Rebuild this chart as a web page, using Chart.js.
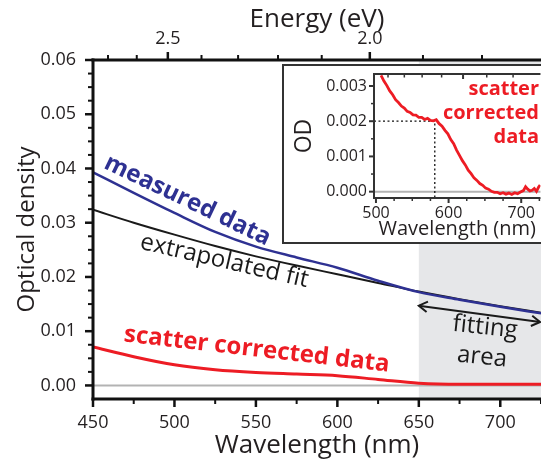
<!DOCTYPE html>
<html><head><meta charset="utf-8">
<script src="https://cdn.jsdelivr.net/npm/chart.js@4.4.1/dist/chart.umd.min.js"></script>
<style>
html,body{margin:0;padding:0;background:#fff;overflow:hidden;width:541px;height:462px;}
#wrap{position:relative;width:541px;height:462px;overflow:hidden;}
#main{position:absolute;left:0;top:0;width:541px;height:462px;}
#insetBox{position:absolute;left:282px;top:64px;width:300px;height:180px;box-sizing:border-box;border:2px solid #333;background:#fff;}
#inset{position:absolute;left:0;top:0;width:257px;height:176px;}
</style></head><body>
<div id="wrap">
<canvas id="main" width="541" height="462"></canvas>
<div id="insetBox"><canvas id="inset" width="257" height="176"></canvas></div>
</div>
<script>
// ---------- data ----------
const wavelength = [450, 475, 500, 525, 550, 575, 600, 625, 650, 675, 700, 725];
const measured   = [0.0393, 0.0355, 0.0318, 0.0283, 0.0256, 0.0236, 0.0217, 0.0193, 0.0172, 0.0158, 0.0145, 0.0133];
const extrapolatedFit = [0.0324, 0.0300, 0.0278, 0.0257, 0.0238, 0.0221, 0.0205, 0.0189, 0.0173, 0.0159, 0.0146, 0.0134];
const scatterCorrected = [0.0071, 0.0053, 0.0038, 0.0029, 0.0024, 0.0021, 0.0018, 0.0011, 0.0004, 0.0002, 0.0002, 0.0002];

const xMajorTicks = [450, 500, 550, 600, 650, 700];
const xMinorTicks = [475, 525, 575, 625, 675, 725];
const yMajorTicks = [0, 0.01, 0.02, 0.03, 0.04, 0.05, 0.06];
const yMinorTicks = [0.0025,0.005,0.0075,0.0125,0.015,0.0175,0.0225,0.025,0.0275,0.0325,0.035,0.0375,0.0425,0.045,0.0475,0.0525,0.055,0.0575];
const energyMajorTicks = [2.5, 2.0];
const energyMinorTicks = [2.7, 2.6, 2.4, 2.3, 2.2, 2.1, 1.9, 1.8];
const fitStart = 650, fitEnd = 725;

// inset data
const insetWavelength = [507,511,515,519,523,527,531,535,539,543,547,551,555,559,563,567,571,575,579,583,587,591,595,599,603,607,611,615,619,623,627,631,635,639,643,647,651,655,659,663,667,671,675,679,683,687,691,695,699,703,706,709,712,715,718,721,724,726];
const insetOD = [0.00330,0.00314,0.00301,0.00286,0.00275,0.00261,0.00253,0.00243,0.00237,0.00228,0.00225,0.00218,0.00217,0.00211,0.00211,0.00205,0.00208,0.00202,0.00201,0.00204,0.00193,0.00186,0.00174,0.00164,0.00148,0.00136,0.00118,0.00103,0.00088,0.00076,0.00061,0.00051,0.00039,0.00032,0.00023,0.00018,0.00010,0.00007,0.00001,-0.00002,-0.00002,-0.00006,-0.00003,-0.00007,-0.00004,-0.00008,-0.00003,-0.00006,-0.00001,0.00003,0.00014,0.00007,0.00002,0.00004,0.00009,0.00001,0.00013,0.00019];
const insetXMajor = [500, 600, 700];
const insetXMinor = [525, 550, 575, 625, 650, 675, 725];
const insetYMajor = [0, 0.001, 0.002, 0.003];
const insetYMinor = [0.0005, 0.0015, 0.0025];
const insetEnergyMajor = [2.0];
const insetEnergyMinor = [2.4, 2.3, 2.2, 2.1, 1.9, 1.8];
const markerWavelength = 581, markerOD = 0.002;

const HC = 1239.84;
const FONT = '"Open Sans", "DejaVu Sans", sans-serif';
const TXT = '#231f20';
const BLUE = '#2e3192', RED = '#ed1c24', BLACK = '#1a1a1a';

function pts(xs, ys){ return xs.map((x,i)=>({x:x, y:ys[i]})); }

function drawTickSet(ctx, scale, values, len, width, side, area){
  ctx.lineWidth = width;
  values.forEach(v=>{
    const p = scale.getPixelForValue(v);
    ctx.beginPath();
    if (side==='left'){ ctx.moveTo(area.left, p); ctx.lineTo(area.left-len, p); }
    if (side==='bottom'){ ctx.moveTo(p, area.bottom); ctx.lineTo(p, area.bottom+len); }
    if (side==='top'){ ctx.moveTo(p, area.top); ctx.lineTo(p, area.top-len); }
    if (side==='topIn'){ ctx.moveTo(p, area.top); ctx.lineTo(p, area.top+len); }
    ctx.stroke();
  });
}

function rotText(ctx, text, x, y, deg, font, color){
  ctx.save();
  ctx.translate(x, y);
  ctx.rotate(deg*Math.PI/180);
  ctx.font = font; ctx.fillStyle = color;
  ctx.textAlign='center'; ctx.textBaseline='middle';
  ctx.fillText(text, 0, 0);
  ctx.restore();
}

const mainDeco = {
  id: 'mainDeco',
  beforeDatasetsDraw(chart){
    const {ctx, chartArea:a, scales:{x, y}} = chart;
    ctx.save();
    ctx.fillStyle = '#e6e7e9';
    const x0 = x.getPixelForValue(fitStart);
    ctx.fillRect(x0, a.top, a.right - x0, a.bottom - a.top);
    ctx.strokeStyle = '#b3b3b3'; ctx.lineWidth = 2;
    const y0 = y.getPixelForValue(0);
    ctx.beginPath(); ctx.moveTo(a.left, y0); ctx.lineTo(a.right, y0); ctx.stroke();
    ctx.restore();
  },
  afterDraw(chart){
    const {ctx, chartArea:a, scales:{x, y}} = chart;
    ctx.save();
    ctx.strokeStyle = '#111'; ctx.lineCap = 'butt';
    ctx.lineWidth = 3;
    ctx.beginPath(); ctx.moveTo(a.left, a.top-1.5); ctx.lineTo(a.left, a.bottom+1.5); ctx.stroke();
    ctx.beginPath(); ctx.moveTo(a.left-1.5, a.top); ctx.lineTo(a.right, a.top); ctx.stroke();
    ctx.beginPath(); ctx.moveTo(a.left-1.5, a.bottom); ctx.lineTo(a.right, a.bottom); ctx.stroke();
    drawTickSet(ctx, y, yMajorTicks, 8, 2.5, 'left', a);
    drawTickSet(ctx, y, yMinorTicks, 5, 2, 'left', a);
    drawTickSet(ctx, x, xMajorTicks, 8, 2.5, 'bottom', a);
    drawTickSet(ctx, x, xMinorTicks, 5, 2, 'bottom', a);
    drawTickSet(ctx, x, energyMajorTicks.map(e=>HC/e), 8, 2.5, 'top', a);
    drawTickSet(ctx, x, energyMinorTicks.map(e=>HC/e), 5, 2, 'top', a);
    // arrow across fitting area
    const ax0 = x.getPixelForValue(fitStart), ay0 = y.getPixelForValue(0.0147);
    const ax1 = x.getPixelForValue(fitEnd)-1, ay1 = y.getPixelForValue(0.0117);
    ctx.strokeStyle = BLACK; ctx.lineWidth = 2;
    ctx.beginPath(); ctx.moveTo(ax0, ay0); ctx.lineTo(ax1, ay1); ctx.stroke();
    const ang = Math.atan2(ay1-ay0, ax1-ax0);
    const head = (px, py, dir)=>{
      ctx.beginPath();
      ctx.moveTo(px + Math.cos(dir+0.55)*10, py + Math.sin(dir+0.55)*10);
      ctx.lineTo(px, py);
      ctx.lineTo(px + Math.cos(dir-0.55)*10, py + Math.sin(dir-0.55)*10);
      ctx.stroke();
    };
    head(ax0, ay0, ang);
    head(ax1, ay1, ang+Math.PI);
    // annotations
    rotText(ctx, 'measured data', x.getPixelForValue(508), y.getPixelForValue(0.0341), 25.5, 'bold 24px '+FONT, BLUE);
    rotText(ctx, 'extrapolated fit', x.getPixelForValue(530.6), y.getPixelForValue(0.0229), 13, '24px '+FONT, BLACK);
    rotText(ctx, 'scatter corrected data', x.getPixelForValue(550.5), y.getPixelForValue(0.0066), 6.5, 'bold 24px '+FONT, RED);
    rotText(ctx, 'fitting', x.getPixelForValue(690.7), y.getPixelForValue(0.0107), 6, '24px '+FONT, BLACK);
    rotText(ctx, 'area', x.getPixelForValue(688.8), y.getPixelForValue(0.0052), 6, '24px '+FONT, BLACK);
    ctx.restore();
  }
};

const tickFont = {family: FONT, size: 18};

new Chart(document.getElementById('main'), {
  type: 'line',
  data: {
    datasets: [
      {data: pts(wavelength, measured), borderColor: BLUE, borderWidth: 2.5, pointRadius: 0, cubicInterpolationMode: 'monotone'},
      {data: pts(wavelength, extrapolatedFit), borderColor: BLACK, borderWidth: 2, pointRadius: 0, cubicInterpolationMode: 'monotone'},
      {data: pts(wavelength, scatterCorrected), borderColor: RED, borderWidth: 3, pointRadius: 0, cubicInterpolationMode: 'monotone'}
    ]
  },
  options: {
    responsive: false, animation: false, devicePixelRatio: 1,
    layout: {padding: 0},
    plugins: {legend: {display: false}, tooltip: {enabled: false}},
    scales: {
      x: {
        type: 'linear', position: 'bottom', min: 450, max: 725,
        afterBuildTicks: s => { s.ticks = xMajorTicks.map(v => ({value: v})); },
        ticks: {font: tickFont, color: TXT, padding: 13, maxRotation: 0, callback: v => String(v)},
        grid: {display: false, drawTicks: false}, border: {display: false},
        title: {display: true, text: 'Wavelength (nm)', font: {family: FONT, size: 26}, color: TXT, padding: {top: 0, bottom: 1}},
        afterFit: s => { s.height = 63; }
      },
      xTop: {
        type: 'linear', position: 'top', min: 450, max: 725,
        afterBuildTicks: s => { s.ticks = energyMajorTicks.map(e => ({value: HC/e})); },
        ticks: {font: tickFont, color: TXT, padding: 10, maxRotation: 0, callback: v => (HC/v).toFixed(1)},
        grid: {display: false, drawTicks: false}, border: {display: false},
        title: {display: true, text: 'Energy (eV)', font: {family: FONT, size: 26}, color: TXT, padding: {top: 4, bottom: 0}},
        afterFit: s => { s.height = 60; }
      },
      y: {
        type: 'linear', position: 'left', min: -0.0025, max: 0.06,
        afterBuildTicks: s => { s.ticks = yMajorTicks.map(v => ({value: v})); },
        ticks: {font: tickFont, color: TXT, padding: 17, callback: v => v.toFixed(2)},
        grid: {display: false, drawTicks: false}, border: {display: false},
        title: {display: true, text: 'Optical density', font: {family: FONT, size: 24}, color: TXT, padding: {top: 13, bottom: 0}},
        afterFit: s => { s.width = 93; s.paddingTop = 0; s.paddingBottom = 0; }
      }
    }
  },
  plugins: [mainDeco]
});

// ---------- inset ----------
const insetDeco = {
  id: 'insetDeco',
  beforeDatasetsDraw(chart){
    const {ctx, chartArea:a, scales:{x, y}} = chart;
    ctx.save();
    ctx.strokeStyle = '#b3b3b3'; ctx.lineWidth = 2;
    const y0 = y.getPixelForValue(0);
    ctx.beginPath(); ctx.moveTo(a.left, y0); ctx.lineTo(a.right, y0); ctx.stroke();
    ctx.strokeStyle = '#111'; ctx.lineWidth = 1.3; ctx.setLineDash([2, 2.5]);
    const mx = x.getPixelForValue(markerWavelength), my = y.getPixelForValue(markerOD);
    ctx.beginPath(); ctx.moveTo(a.left, my); ctx.lineTo(mx, my); ctx.lineTo(mx, a.bottom); ctx.stroke();
    ctx.restore();
  },
  afterDraw(chart){
    const {ctx, chartArea:a, scales:{x, y}} = chart;
    ctx.save();
    ctx.strokeStyle = '#333';
    ctx.lineWidth = 2;
    ctx.beginPath(); ctx.moveTo(a.left, a.top-1); ctx.lineTo(a.left, a.bottom+1); ctx.stroke();
    ctx.beginPath(); ctx.moveTo(a.left-1, a.top); ctx.lineTo(a.right, a.top); ctx.stroke();
    ctx.beginPath(); ctx.moveTo(a.left-1, a.bottom); ctx.lineTo(a.right, a.bottom); ctx.stroke();
    drawTickSet(ctx, y, insetYMajor, 5, 2, 'left', a);
    drawTickSet(ctx, y, insetYMinor, 3, 1.5, 'left', a);
    drawTickSet(ctx, x, insetXMajor, 5, 2, 'bottom', a);
    drawTickSet(ctx, x, insetXMinor, 3, 1.5, 'bottom', a);
    drawTickSet(ctx, x, insetEnergyMajor.map(e=>HC/e), 5, 2, 'topIn', a);
    drawTickSet(ctx, x, insetEnergyMinor.map(e=>HC/e), 3.5, 1.5, 'topIn', a);
    ctx.fillStyle = RED; ctx.font = 'bold 20px '+FONT;
    ctx.textAlign = 'right'; ctx.textBaseline = 'middle';
    ctx.fillText('scatter', 255, 23);
    ctx.fillText('corrected', 255, 47);
    ctx.fillText('data', 255, 71);
    ctx.restore();
  }
};

new Chart(document.getElementById('inset'), {
  type: 'line',
  data: {
    datasets: [
      {data: pts(insetWavelength, insetOD), borderColor: RED, borderWidth: 2.8, pointRadius: 0, tension: 0}
    ]
  },
  options: {
    responsive: false, animation: false, devicePixelRatio: 1,
    layout: {padding: 0},
    plugins: {legend: {display: false}, tooltip: {enabled: false}},
    scales: {
      x: {
        type: 'linear', position: 'bottom', min: 497.3, max: 726.5,
        afterBuildTicks: s => { s.ticks = insetXMajor.map(v => ({value: v})); },
        ticks: {font: {family: FONT, size: 16}, color: TXT, padding: 6, maxRotation: 0, callback: v => String(v)},
        grid: {display: false, drawTicks: false}, border: {display: false},
        title: {display: true, text: 'Wavelength (nm)', font: {family: FONT, size: 20}, color: TXT, padding: {top: 0, bottom: 1}},
        afterFit: s => { s.height = 44; }
      },
      xTop: {
        type: 'linear', position: 'top', min: 497.3, max: 726.5,
        ticks: {display: false},
        grid: {display: false, drawTicks: false}, border: {display: false},
        afterFit: s => { s.height = 8; }
      },
      y: {
        type: 'linear', position: 'left', min: -0.00018, max: 0.00334,
        afterBuildTicks: s => { s.ticks = insetYMajor.map(v => ({value: v})); },
        ticks: {font: {family: FONT, size: 16}, color: TXT, padding: 7, callback: v => v.toFixed(3)},
        grid: {display: false, drawTicks: false}, border: {display: false},
        title: {display: true, text: 'OD', font: {family: FONT, size: 23}, color: TXT, padding: {top: 7, bottom: 0}},
        afterFit: s => { s.width = 90; s.paddingTop = 0; s.paddingBottom = 0; }
      }
    }
  },
  plugins: [insetDeco]
});
</script>
</body></html>
